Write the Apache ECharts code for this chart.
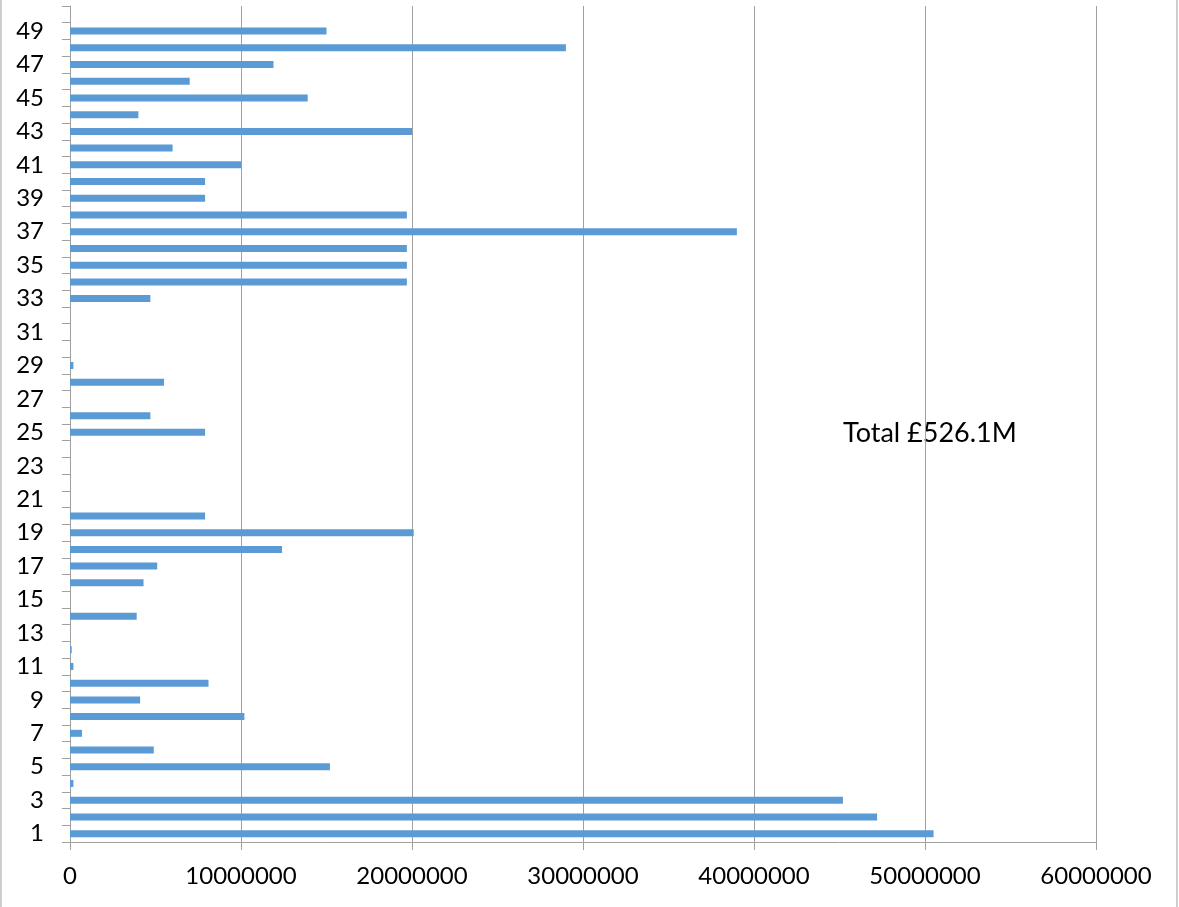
<!DOCTYPE html>
<html>
<head>
<meta charset="utf-8">
<script src="https://cdn.jsdelivr.net/npm/echarts@6/dist/echarts.min.js"></script>
<style>
  html, body { margin: 0; padding: 0; background: #fff; }
  #chart { width: 1179px; height: 907px; }
</style>
</head>
<body>
<div id="chart"></div>
<script>
// categories 1..50 (50 has no bar)
const categories = ['1','2','3','4','5','6','7','8','9','10',
  '11','12','13','14','15','16','17','18','19','20',
  '21','22','23','24','25','26','27','28','29','30',
  '31','32','33','34','35','36','37','38','39','40',
  '41','42','43','44','45','46','47','48','49','50'];

const values = [50500000, 47200000, 45200000, 200000, 15200000, 4900000, 700000, 10200000, 4100000, 8100000,
  200000, 100000, 0, 3900000, 0, 4300000, 5100000, 12400000, 20100000, 7900000,
  0, 0, 0, 0, 7900000, 4700000, 0, 5500000, 200000, 0,
  0, 0, 4700000, 19700000, 19700000, 19700000, 39000000, 19700000, 7900000, 7900000,
  10000000, 6000000, 20000000, 4000000, 13900000, 7000000, 11900000, 29000000, 15000000, 0];

const xTicks = [0, 10000000, 20000000, 30000000, 40000000, 50000000, 60000000];
const totalLabel = 'Total £526.1M';

const font = 'Lato, "Open Sans", sans-serif';
const grey = '#a0a0a0';

let myChart = echarts.init(document.getElementById('chart'));
myChart.setOption({
    backgroundColor: '#fff',
    animation: false,
    grid: { left: 70, right: 83, top: 6, bottom: 65 },
    xAxis: {
        type: 'value',
        min: xTicks[0],
        max: xTicks[xTicks.length - 1],
        interval: xTicks[1] - xTicks[0],
        axisLine: { show: true, lineStyle: { color: grey, width: 1 } },
        axisTick: { show: true, length: 8, lineStyle: { color: grey } },
        splitLine: { show: true, lineStyle: { color: grey, width: 1 } },
        axisLabel: {
            color: '#000', fontSize: 24, fontFamily: font, margin: 22,
            formatter: function (v) { return String(v); }
        }
    },
    yAxis: {
        type: 'category',
        data: categories,
        axisLine: { show: true, lineStyle: { color: grey, width: 1 } },
        axisTick: { show: true, length: 8, interval: 0, lineStyle: { color: grey } },
        axisLabel: { color: '#000', fontSize: 24, fontFamily: font, interval: 1, margin: 26 }
    },
    series: [{
        type: 'bar',
        data: values,
        barWidth: 7,
        itemStyle: { color: '#5b9bd5' },
        silent: true
    }],
    graphic: [
        {
            type: 'rect',
            shape: { x: 1, y: -10, width: 1176, height: 930 },
            style: { fill: 'none', stroke: '#bfbfbf', lineWidth: 1.5 }
        },
        {
            type: 'text',
            left: 843,
            top: 420,
            style: { text: totalLabel, fill: '#000', fontSize: 27, fontFamily: font }
        }
    ]
});
</script>
</body>
</html>
